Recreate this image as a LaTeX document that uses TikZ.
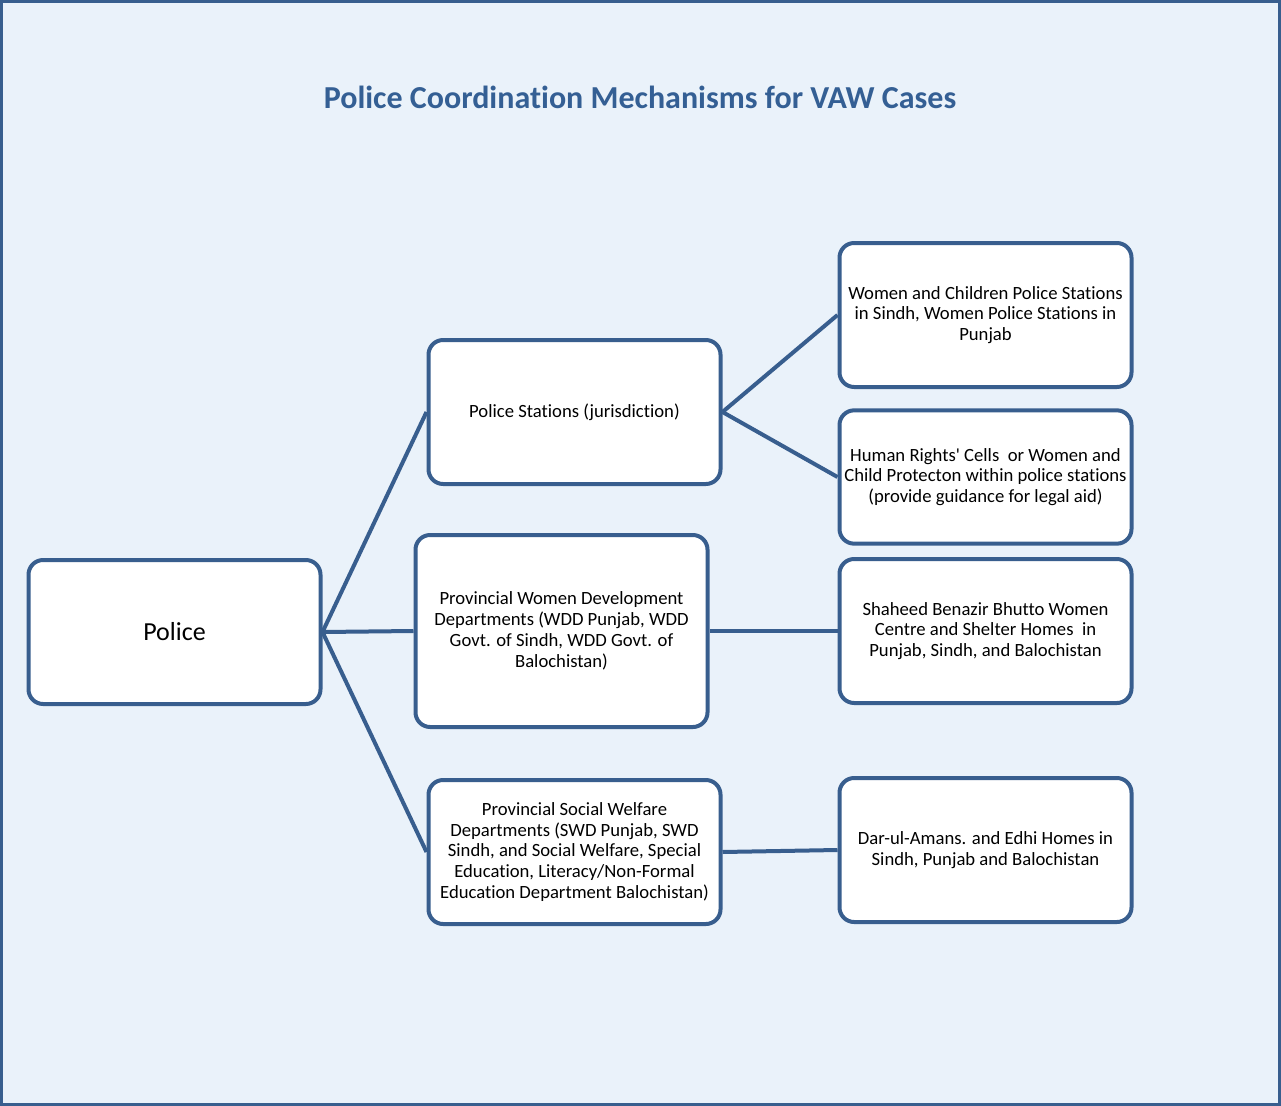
\documentclass[tikz,border=0pt]{standalone}
\usepackage{fontspec}
\setmainfont[Ligatures=NoCommon]{Carlito}
\usepackage{tikz}
\usetikzlibrary{calc}
\definecolor{boxblue}{RGB}{56,94,142}
\definecolor{titleblue}{RGB}{52,95,148}
\definecolor{bgblue}{RGB}{234,242,250}

\begin{document}
\begin{tikzpicture}[x=0.75pt,y=-0.75pt,line width=3pt,draw=boxblue,
                    font=\fontsize{14}{15.6}\selectfont]
  \tikzstyle{box}=[rectangle,rounded corners=11pt,draw=boxblue,line width=3pt,
                   fill=white,text=black,align=center,
                   minimum width=219pt,minimum height=108pt,inner sep=0pt]
  \tikzstyle{link}=[draw=boxblue,line width=3pt]

  \useasboundingbox (0,0) rectangle (1281,1106);
  \fill[bgblue] (0,0) rectangle (1281,1106);
  \draw[boxblue,line width=2.5pt] (1.6,1.6) rectangle (1279.4,1104.4);

  \node[text=titleblue,font=\fontsize{24}{28}\selectfont\bfseries] (title)
       at (640,97) {Police Coordination Mechanisms for VAW Cases};

  \node[box,font=\fontsize{19.5}{23}\selectfont] (police) at (174.5,632) {Police};

  \node[box] (stations) at (574.5,412) {Police Stations (jurisdiction)};
  \node[box,minimum height=144pt] (wdd) at (561.5,631)
       {Provincial Women Development\\Departments (WDD Punjab, WDD\\Govt. of Sindh, WDD Govt. of\\Balochistan)};
  \node[box] (swd) at (574.5,852)
       {Provincial Social Welfare\\Departments (SWD Punjab, SWD\\Sindh, and Social Welfare, Special\\Education, Literacy/Non-Formal\\Education Department Balochistan)};

  \node[box] (wcps) at (985.5,315)
       {Women and Children Police Stations\\in Sindh, Women Police Stations in\\Punjab};
  \node[box,minimum height=100pt] (hrc) at (985.5,477)
       {Human Rights\textquotesingle\ Cells~ or Women and\\Child Protecton within police stations\\(provide guidance for legal aid)};
  \node[box] (sbb) at (985.5,631)
       {Shaheed Benazir Bhutto Women\\Centre and Shelter Homes~ in\\Punjab, Sindh, and Balochistan};
  \node[box] (darul) at (985.5,850)
       {Dar-ul-Amans. and Edhi Homes in\\Sindh, Punjab and Balochistan};

  \path[link]
  (police.east) edge (stations.west)
  (police.east) edge (wdd.west)
  (police.east) edge (swd.west)
  (stations.east) edge (wcps.west)
  (stations.east) edge (hrc.west)
  (wdd.east) edge (sbb.west)
  (swd.east) edge (darul.west);
\end{tikzpicture}
\end{document}
